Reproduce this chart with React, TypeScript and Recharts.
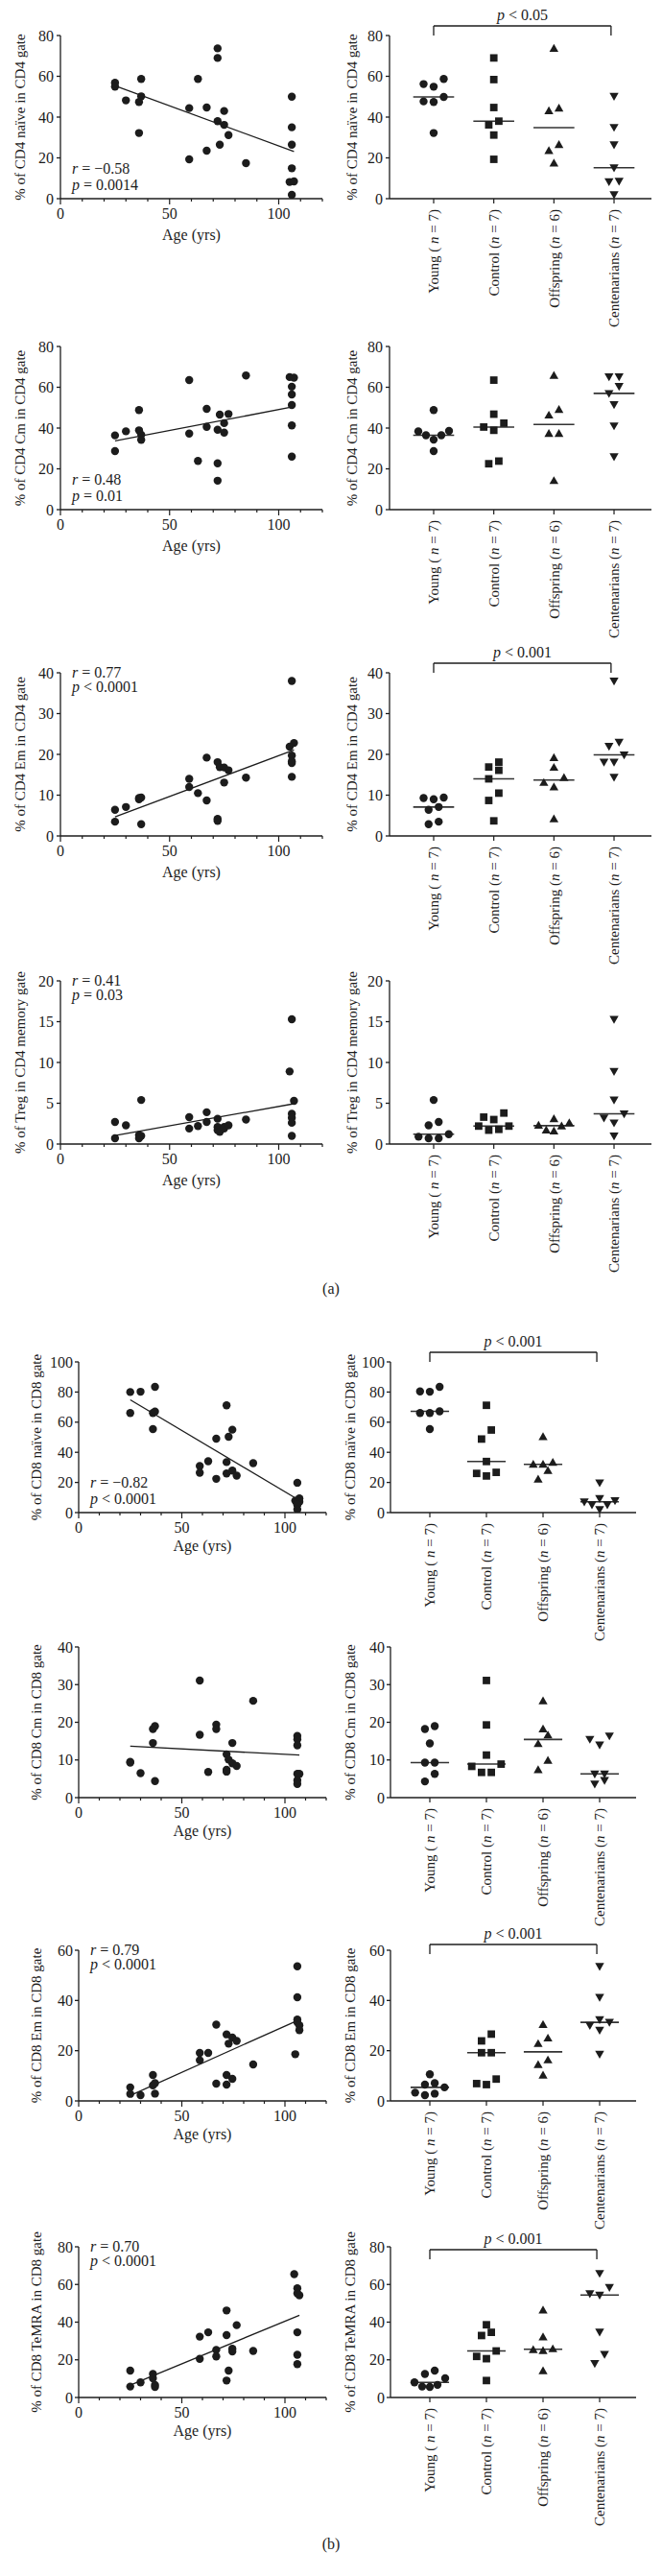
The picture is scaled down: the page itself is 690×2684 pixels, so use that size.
import React from 'react';
import { ScatterChart, Scatter, XAxis, YAxis, ReferenceLine } from 'recharts';

const SERIF = '"Liberation Serif", "DejaVu Serif", serif';
const INK = '#1c1c1c';

// categories / tick labels
const GROUPS = ['Young', 'Control', 'Offspring', 'Centenarians'];
const GROUP_OPEN = ['( ', '(', '(', '('];
const GROUP_N = [7, 7, 6, 7];
const GROUP_MARKS = ['circle', 'square', 'up', 'down'];
const AGE_TICKS = [0, 10, 20, 30, 40, 50, 60, 70, 80, 90, 100, 110, 120];
const AGE_LABELS = [0, 50, 100];

// ---- (a) CD4 naive ----
const CD4_NAIVE_TICKS = [0, 20, 40, 60, 80];
const CD4_NAIVE_AGE = [
  [25, 56.8], [25, 54.9], [30, 48.2], [36, 47.4], [36, 32.2], [37, 58.7], [37, 50.2],
  [59, 44.4], [59, 19.3], [63, 58.7], [67, 44.7], [67, 23.5], [72, 73.7], [72, 69], [72, 38],
  [73, 26.5], [75, 43], [75, 36.2], [77, 31.2], [85, 17.4],
  [106, 50], [106, 35], [106, 26.5], [106, 14.9], [105, 8.2], [107, 8.5], [106, 1.9],
];
const CD4_NAIVE_YOUNG = [58.7, 56.2, 54.9, 49.9, 47.7, 47.4, 32.2];
const CD4_NAIVE_CONTROL = [69, 58.4, 44.7, 38, 36.2, 31.2, 19.3];
const CD4_NAIVE_OFFSPRING = [73.7, 43.1, 44.4, 26.5, 23.5, 17.4];
const CD4_NAIVE_CENT = [50.2, 35, 26.5, 15.2, 8.6, 8.3, 2];

// ---- (a) CD4 Cm ----
const CD4_CM_TICKS = [0, 20, 40, 60, 80];
const CD4_CM_AGE = [
  [25, 36.4], [25, 28.7], [30, 38.4], [36, 48.8], [36, 38.9], [37, 36.7], [37, 34.2],
  [59, 63.5], [59, 37.3], [63, 23.9], [67, 49.4], [67, 40.6], [72, 39.2], [72, 22.7], [72, 14.2],
  [73, 46.6], [75, 42.4], [75, 37.8], [77, 46.9], [85, 65.8],
  [105, 65], [107, 64.7], [106, 60.3], [106, 56.5], [106, 51.3], [106, 41.3], [106, 26],
];
const CD4_CM_YOUNG = [48.8, 38.4, 38.6, 36.5, 36.5, 34.3, 28.7];
const CD4_CM_CONTROL = [63.5, 46.8, 40.5, 42.4, 38.9, 22.5, 23.8];
const CD4_CM_OFFSPRING = [65.8, 46.3, 49.1, 37.3, 37.3, 14.2];
const CD4_CM_CENT = [65.2, 65.2, 60.5, 57, 51.5, 41.1, 26];

// ---- (a) CD4 Em ----
const CD4_EM_TICKS = [0, 10, 20, 30, 40];
const CD4_EM_AGE = [
  [25, 6.4], [25, 3.5], [30, 7.1], [36, 9.0], [36, 9.3], [37, 9.4], [37, 2.9],
  [59, 14], [59, 12], [63, 10.5], [67, 19.2], [67, 8.7], [72, 18.1], [72, 4.2], [72, 3.7],
  [73, 16.9], [75, 16.8], [75, 13.1], [77, 16.1], [85, 14.3],
  [106, 38], [107, 22.8], [105, 21.9], [106, 19.7], [106, 17.9], [106, 18.3], [106, 14.5],
];
const CD4_EM_YOUNG = [9.4, 9.0, 9.3, 7.1, 6.4, 2.9, 3.5];
const CD4_EM_CONTROL = [18.1, 16.9, 16.1, 14, 10.5, 8.7, 3.7];
const CD4_EM_OFFSPRING = [19.2, 16.8, 14.3, 13.1, 12, 4.2];
const CD4_EM_CENT = [38, 23, 22, 19.9, 18.1, 18.1, 14.4];

// ---- (a) Treg ----
const TREG_TICKS = [0, 5, 10, 15, 20];
const TREG_AGE = [
  [25, 2.7], [25, 0.7], [30, 2.3], [37, 5.4], [36, 1.1], [37, 1.0], [36, 0.7],
  [59, 3.3], [59, 1.9], [63, 2.2], [67, 3.9], [67, 2.7], [72, 3.1], [72, 2.1], [72, 1.7],
  [73, 1.5], [75, 2.1], [75, 1.9], [77, 2.3], [85, 3],
  [106, 15.3], [105, 8.9], [107, 5.3], [106, 3.7], [106, 3.2], [106, 2.6], [106, 1],
];
const TREG_YOUNG = [5.4, 2.7, 2.3, 1.2, 0.9, 0.7, 0.7];
const TREG_CONTROL = [3.3, 3, 3.8, 2.2, 2.2, 1.7, 1.8];
const TREG_OFFSPRING = [2.6, 2.2, 3.1, 2.3, 1.7, 1.6];
const TREG_CENT = [15.3, 8.9, 5.4, 3.7, 3.2, 2.6, 1];

// ---- (b) CD8 naive ----
const CD8_NAIVE_TICKS = [0, 20, 40, 60, 80, 100];
const CD8_NAIVE_AGE = [
  [25, 80], [25, 66.1], [30, 80.2], [37, 83.4], [36, 66.1], [37, 67], [36, 55.4],
  [58.7, 30.9], [58.7, 26.4], [62.8, 34.1], [66.7, 49], [66.7, 22.4], [71.7, 71.2], [71.7, 33.5],
  [71.7, 26], [72.7, 50.3], [74.5, 55], [74.5, 27.9], [76.6, 24.5], [84.6, 32.8],
  [106, 19.8], [107, 9.4], [105, 7.9], [107, 7.2], [106, 5.3], [106, 5.3], [106, 2.1],
];
const CD8_NAIVE_YOUNG = [83.4, 80.2, 80.4, 66.1, 66.1, 67.2, 55.4];
const CD8_NAIVE_CONTROL = [71.2, 54.8, 48.8, 33.9, 26.7, 26, 24.3];
const CD8_NAIVE_OFFSPRING = [50.3, 32, 32, 33.3, 27.9, 22.2];
const CD8_NAIVE_CENT = [19.8, 7.9, 9.4, 7.2, 5.3, 5.3, 2.1];

// ---- (b) CD8 Cm ----
const CD8_CM_TICKS = [0, 10, 20, 30, 40];
const CD8_CM_AGE = [
  [25, 9.5], [25, 9.3], [30, 6.5], [36, 18.2], [36, 14.5], [37, 19], [37, 4.4],
  [58.7, 31.1], [58.7, 16.7], [62.8, 6.8], [66.7, 19.4], [66.7, 18.2], [71.7, 11.5], [71.7, 7.4],
  [71.7, 6.9], [72.7, 10.1], [74.5, 14.5], [74.5, 9.1], [76.6, 8.4], [84.6, 25.7],
  [106, 16.4], [106, 15.5], [106, 13.9], [106, 6.3], [107, 6.3], [106, 4.6], [106, 3.6],
];
const CD8_CM_YOUNG = [19, 18.2, 14.4, 9.3, 9.3, 6.3, 4.3];
const CD8_CM_CONTROL = [31.1, 19.3, 11.3, 8.3, 8.9, 6.7, 6.7];
const CD8_CM_OFFSPRING = [25.7, 18.2, 16.6, 14.3, 9.9, 7.4];
const CD8_CM_CENT = [16.4, 15.5, 14, 6.3, 6.3, 4.6, 3.6];

// ---- (b) CD8 Em ----
const CD8_EM_TICKS = [0, 20, 40, 60];
const CD8_EM_AGE = [
  [25, 5.4], [25, 2.8], [30, 2.3], [36, 10.3], [36, 6.2], [37, 7.1], [37, 2.9],
  [58.7, 19.1], [58.7, 16.2], [62.8, 19.1], [66.7, 30.4], [66.7, 6.9], [71.7, 26.5], [71.7, 6.5],
  [71.7, 10.3], [72.7, 22.8], [74.5, 25.2], [74.5, 8.8], [76.6, 23.9], [84.6, 14.5],
  [106, 53.6], [106, 41.3], [106, 32.4], [106, 31.3], [107, 30.1], [107, 28.2], [105, 18.6],
];
const CD8_EM_YOUNG = [10.6, 6.5, 7.1, 5.4, 3.3, 2.3, 2.9];
const CD8_EM_CONTROL = [26.6, 23.9, 19.2, 19.2, 8.7, 6.5, 6.9];
const CD8_EM_OFFSPRING = [30.4, 25, 22.8, 16.3, 14.4, 10.2];
const CD8_EM_CENT = [53.6, 41.3, 30.1, 32.4, 31.3, 28.2, 18.6];

// ---- (b) CD8 TeMRA ----
const CD8_TEMRA_TICKS = [0, 20, 40, 60, 80];
const CD8_TEMRA_AGE = [
  [25, 14.3], [25, 5.8], [30, 8], [36, 12.5], [36, 10.2], [37, 6.7], [37, 5.6],
  [58.7, 32.3], [58.7, 20.5], [62.8, 34.6], [66.7, 25.3], [66.7, 21.8], [71.7, 46.2], [71.7, 33.1],
  [71.7, 9], [72.7, 14.3], [74.5, 25.9], [74.5, 24.4], [76.6, 38.4], [84.6, 24.7],
  [104.5, 65.5], [106, 58], [106, 55.3], [107, 54.3], [106, 34.6], [106, 22.7], [106, 17.7],
];
const CD8_TEMRA_YOUNG = [14.3, 12.5, 10.2, 8.0, 6.7, 5.8, 5.6];
const CD8_TEMRA_CONTROL = [38.6, 32.9, 34.6, 21.8, 20.6, 24.7, 9];
const CD8_TEMRA_OFFSPRING = [46.4, 32.1, 25.4, 24.9, 25.8, 14.2];
const CD8_TEMRA_CENT = [65.9, 58.5, 54.4, 55.1, 34.8, 22.9, 18.1];

type Panel = {
  yLabel: string;
  ticks: number[];
  age: number[][];
  groups: number[][];
  stats?: string[];
  statPos?: 'top' | 'bottom';
  bracket?: { text: string; gap: number };
};

const PANELS_A: Panel[] = [
  {
    yLabel: '% of CD4 naïve in CD4 gate', ticks: CD4_NAIVE_TICKS, age: CD4_NAIVE_AGE,
    groups: [CD4_NAIVE_YOUNG, CD4_NAIVE_CONTROL, CD4_NAIVE_OFFSPRING, CD4_NAIVE_CENT],
    stats: ['= −0.58', '= 0.0014'], statPos: 'bottom', bracket: { text: '< 0.05', gap: 10 },
  },
  {
    yLabel: '% of CD4 Cm in CD4 gate', ticks: CD4_CM_TICKS, age: CD4_CM_AGE,
    groups: [CD4_CM_YOUNG, CD4_CM_CONTROL, CD4_CM_OFFSPRING, CD4_CM_CENT],
    stats: ['= 0.48', '= 0.01'], statPos: 'bottom',
  },
  {
    yLabel: '% of CD4 Em in CD4 gate', ticks: CD4_EM_TICKS, age: CD4_EM_AGE,
    groups: [CD4_EM_YOUNG, CD4_EM_CONTROL, CD4_EM_OFFSPRING, CD4_EM_CENT],
    stats: ['= 0.77', '< 0.0001'], statPos: 'top', bracket: { text: '< 0.001', gap: 10 },
  },
  {
    yLabel: '% of Treg in CD4 memory gate', ticks: TREG_TICKS, age: TREG_AGE,
    groups: [TREG_YOUNG, TREG_CONTROL, TREG_OFFSPRING, TREG_CENT],
    stats: ['= 0.41', '= 0.03'], statPos: 'top',
  },
];

const PANELS_B: Panel[] = [
  {
    yLabel: '% of CD8 naïve in CD8 gate', ticks: CD8_NAIVE_TICKS, age: CD8_NAIVE_AGE,
    groups: [CD8_NAIVE_YOUNG, CD8_NAIVE_CONTROL, CD8_NAIVE_OFFSPRING, CD8_NAIVE_CENT],
    stats: ['= −0.82', '< 0.0001'], statPos: 'bottom', bracket: { text: '< 0.001', gap: 10 },
  },
  {
    yLabel: '% of CD8 Cm in CD8 gate', ticks: CD8_CM_TICKS, age: CD8_CM_AGE,
    groups: [CD8_CM_YOUNG, CD8_CM_CONTROL, CD8_CM_OFFSPRING, CD8_CM_CENT],
  },
  {
    yLabel: '% of CD8 Em in CD8 gate', ticks: CD8_EM_TICKS, age: CD8_EM_AGE,
    groups: [CD8_EM_YOUNG, CD8_EM_CONTROL, CD8_EM_OFFSPRING, CD8_EM_CENT],
    stats: ['= 0.79', '< 0.0001'], statPos: 'top', bracket: { text: '< 0.001', gap: 6 },
  },
  {
    yLabel: '% of CD8 TeMRA in CD8 gate', ticks: CD8_TEMRA_TICKS, age: CD8_TEMRA_AGE,
    groups: [CD8_TEMRA_YOUNG, CD8_TEMRA_CONTROL, CD8_TEMRA_OFFSPRING, CD8_TEMRA_CENT],
    stats: ['= 0.70', '< 0.0001'], statPos: 'top', bracket: { text: '< 0.001', gap: -3 },
  },
];

// layout of the two halves of the figure
type Part = {
  H: number; tops: number[];
  leftAxisW: number; leftRight: number; rightAxisW: number; rightRight: number;
  xDomain: [number, number]; step: number; yLabelL: number; yLabelR: number; ageOffset: number; tickGap: number;
};
const PART_A: Part = {
  H: 170, tops: [37, 361, 701, 1022],
  leftAxisW: 63, leftRight: 9, rightAxisW: 61, rightRight: 11,
  xDomain: [0.266, 4.622], step: 10.5, yLabelL: 21, yLabelR: 22, ageOffset: 43, tickGap: 3,
};
const PART_B: Part = {
  H: 157, tops: [1419, 1716, 2032, 2341],
  leftAxisW: 82, leftRight: 5, rightAxisW: 62, rightRight: 27,
  xDomain: [0.305, 4.644], step: 10.2, yLabelL: 38, yLabelR: 20, ageOffset: 40, tickGap: 2,
};
const TOP_PAD = 30;

const median = (v: number[]) => {
  const s = [...v].sort((a, b) => a - b);
  const m = Math.floor(s.length / 2);
  return s.length % 2 ? s[m] : (s[m - 1] + s[m]) / 2;
};

function fitLine(pts: number[][]) {
  const n = pts.length;
  const mx = pts.reduce((a, p) => a + p[0], 0) / n;
  const my = pts.reduce((a, p) => a + p[1], 0) / n;
  let sxy = 0, sxx = 0;
  pts.forEach(([x, y]) => { sxy += (x - mx) * (y - my); sxx += (x - mx) * (x - mx); });
  const b = sxy / sxx, a = my - b * mx;
  const x0 = Math.min(...pts.map((p) => p[0]));
  const x1 = Math.max(...pts.map((p) => p[0]));
  return [{ x: x0, y: a + b * x0 }, { x: x1, y: a + b * x1 }];
}

// GraphPad-like column scatter: points close in value share a row, spread sideways
function swarm(values: number[], pxPerUnit: number, step: number) {
  const order = values.map((_, i) => i).sort((a, b) => values[a] - values[b]);
  const out = values.map(() => 0);
  let bin: number[] = [];
  const flush = () => {
    const n = bin.length;
    const s = n > 1 ? Math.min(step, 32 / (n - 1)) : 0;
    const slots: number[] = [];
    if (n % 2) { slots.push(0); for (let k = 1; slots.length < n; k++) slots.push(-k, k); }
    else { for (let k = 0.5; slots.length < n; k++) slots.push(-k, k); }
    bin.forEach((idx, j) => (out[idx] = slots[j] * s));
    bin = [];
  };
  order.forEach((i) => {
    if (bin.length && (values[i] - values[bin[0]]) * pxPerUnit > 10) flush();
    bin.push(i);
  });
  flush();
  return out;
}

function Mark({ kind, cx, cy }: { kind: string; cx: number; cy: number }) {
  if (kind === 'square') return <rect x={cx - 3.9} y={cy - 3.9} width={7.8} height={7.8} fill={INK} />;
  if (kind === 'up')
    return <polygon points={`${cx},${cy - 4.7} ${cx + 4.7},${cy + 3.5} ${cx - 4.7},${cy + 3.5}`} fill={INK} />;
  if (kind === 'down')
    return <polygon points={`${cx},${cy + 4.7} ${cx + 4.7},${cy - 3.5} ${cx - 4.7},${cy - 3.5}`} fill={INK} />;
  return <circle cx={cx} cy={cy} r={4.2} fill={INK} />;
}

function AgeTick(props: any) {
  const { x, y, payload } = props;
  const major = AGE_LABELS.includes(payload.value);
  return (
    <g>
      <line x1={x} y1={y} x2={x} y2={y + (major ? 6 : 3)} stroke={INK} strokeWidth={1.2} />
      {major && (
        <text x={x} y={y + 21} textAnchor="middle" fontSize={16} fontFamily={SERIF} fill={INK}>
          {payload.value}
        </text>
      )}
    </g>
  );
}

function GroupTick(props: any) {
  const { x, y, payload } = props;
  const i = Math.round(payload.value) - 1;
  const ty = y + 11;
  return (
    <g>
      <line x1={x} y1={y} x2={x} y2={y + 5} stroke={INK} strokeWidth={1.2} />
      <text
        x={x} y={ty} dy="0.36em" transform={`rotate(-90 ${x} ${ty})`} textAnchor="end"
        fontSize={15} fontFamily={SERIF} fill={INK} style={{ whiteSpace: 'pre' }}
      >
        {GROUPS[i]} {GROUP_OPEN[i]}<tspan fontStyle="italic">n</tspan> = {GROUP_N[i]})
      </text>
    </g>
  );
}

function yTitle(text: string, cx: number) {
  return (p: any) => {
    const vb = p.viewBox;
    if (!vb) return null;
    const cy = vb.y + vb.height / 2;
    return (
      <text
        x={cx} y={cy} dy="0.36em" transform={`rotate(-90 ${cx} ${cy})`} textAnchor="middle"
        fontSize={15} fontFamily={SERIF} fill={INK}
      >
        {text}
      </text>
    );
  };
}

const axisLine = { stroke: INK, strokeWidth: 1.3 };

function LeftPanel({ panel, part, top }: { panel: Panel; part: Part; top: number }) {
  const yMax = panel.ticks[panel.ticks.length - 1];
  const pts = panel.age.map(([x, y]) => ({ x, y }));
  const reg = fitLine(panel.age);
  return (
    <div style={{ position: 'absolute', left: 0, top: top - TOP_PAD }}>
      <ScatterChart
        width={345} height={TOP_PAD + part.H + 55}
        margin={{ top: TOP_PAD, right: part.leftRight, bottom: 0, left: 0 }}
      >
        <XAxis
          type="number" dataKey="x" domain={[0, 120]} ticks={AGE_TICKS} interval={0} allowDataOverflow
          height={55} tickLine={false} tickSize={0} tickMargin={0} axisLine={axisLine} tick={AgeTick}
          label={{
            content: (p: any) =>
              p.viewBox ? (
                <text
                  x={p.viewBox.x + p.viewBox.width / 2} y={p.viewBox.y + part.ageOffset}
                  textAnchor="middle" fontSize={16} fontFamily={SERIF} fill={INK}
                >
                  Age (yrs)
                </text>
              ) : null,
          }}
        />
        <YAxis
          type="number" dataKey="y" domain={[0, yMax]} ticks={panel.ticks} interval={0} allowDataOverflow
          width={part.leftAxisW} axisLine={axisLine} tickLine={axisLine} tickSize={4} tickMargin={part.tickGap}
          tick={{ fontSize: 16, fontFamily: SERIF, fill: INK }}
          label={{ content: yTitle(panel.yLabel, part.yLabelL) }}
        />
        <ReferenceLine segment={reg} stroke={INK} strokeWidth={1.3} ifOverflow="visible" />
        <Scatter
          data={pts} isAnimationActive={false}
          shape={(p: any) => <Mark kind="circle" cx={p.cx} cy={p.cy} />}
        />
      </ScatterChart>
    </div>
  );
}

function RightPanel({ panel, part, top }: { panel: Panel; part: Part; top: number }) {
  const yMax = panel.ticks[panel.ticks.length - 1];
  const u = yMax / part.H; // data units per pixel
  const series = panel.groups.map((vals, gi) => {
    const dx = swarm(vals, 1 / u, part.step);
    return vals.map((y, k) => ({ x: gi + 1, y, dx: dx[k] }));
  });
  const br = panel.bracket;
  const lvl = br ? yMax + br.gap * u : 0;
  const drop = lvl - 10 * u;
  const bl = 1, brx = 3.95;
  return (
    <div style={{ position: 'absolute', left: 345, top: top - TOP_PAD }}>
      <ScatterChart
        width={345} height={TOP_PAD + part.H + 140}
        margin={{ top: TOP_PAD, right: part.rightRight, bottom: 0, left: 0 }}
      >
        <XAxis
          type="number" dataKey="x" domain={part.xDomain} ticks={[1, 2, 3, 4]} interval={0} allowDataOverflow
          height={140} tickLine={false} tickSize={0} tickMargin={0} axisLine={axisLine} tick={GroupTick}
        />
        <YAxis
          type="number" dataKey="y" domain={[0, yMax]} ticks={panel.ticks} interval={0} allowDataOverflow
          width={part.rightAxisW} axisLine={axisLine} tickLine={axisLine} tickSize={4} tickMargin={part.tickGap}
          tick={{ fontSize: 16, fontFamily: SERIF, fill: INK }}
          label={{ content: yTitle(panel.yLabel, part.yLabelR) }}
        />
        {panel.groups.map((vals, gi) => {
          const m = median(vals);
          return (
            <ReferenceLine
              key={`m${gi}`} segment={[{ x: gi + 1 - 0.34, y: m }, { x: gi + 1 + 0.34, y: m }]}
              stroke="#333" strokeWidth={1.6} ifOverflow="visible"
            />
          );
        })}
        {br && (
          <ReferenceLine
            segment={[{ x: bl, y: lvl }, { x: brx, y: lvl }]} stroke={INK} strokeWidth={1.3} ifOverflow="visible"
            label={(p: any) =>
              p.viewBox ? (
                <text
                  x={p.viewBox.x + p.viewBox.width / 2} y={p.viewBox.y - 6} textAnchor="middle"
                  fontSize={16} fontFamily={SERIF} fill={INK} style={{ whiteSpace: 'pre' }}
                >
                  <tspan fontStyle="italic">p</tspan> {br.text}
                </text>
              ) : null
            }
          />
        )}
        {br && (
          <ReferenceLine segment={[{ x: bl, y: lvl }, { x: bl, y: drop }]} stroke={INK} strokeWidth={1.3} ifOverflow="visible" />
        )}
        {br && (
          <ReferenceLine segment={[{ x: brx, y: lvl }, { x: brx, y: drop }]} stroke={INK} strokeWidth={1.3} ifOverflow="visible" />
        )}
        {series.map((data, gi) => (
          <Scatter
            key={GROUPS[gi]} name={GROUPS[gi]} data={data} isAnimationActive={false}
            shape={(p: any) => <Mark kind={GROUP_MARKS[gi]} cx={p.cx + (p.payload?.dx ?? 0)} cy={p.cy} />}
          />
        ))}
      </ScatterChart>
    </div>
  );
}

function Stats({ panel, part, top }: { panel: Panel; part: Part; top: number }) {
  if (!panel.stats) return null;
  const x = part.leftAxisW + 12;
  const bottom = top + part.H;
  const y1 = panel.statPos === 'top' ? top + 5 : bottom - 26;
  const y2 = panel.statPos === 'top' ? top + 20 : bottom - 9;
  const t = { fontSize: 16, fontFamily: SERIF, fill: INK, style: { whiteSpace: 'pre' as const } };
  return (
    <g>
      <text x={x} y={y1} {...t}>
        <tspan fontStyle="italic">r</tspan> {panel.stats[0]}
      </text>
      <text x={x} y={y2} {...t}>
        <tspan fontStyle="italic">p</tspan> {panel.stats[1]}
      </text>
    </g>
  );
}

export default function App() {
  const parts: [Panel[], Part][] = [[PANELS_A, PART_A], [PANELS_B, PART_B]];
  return (
    <div style={{ position: 'absolute', left: 0, top: 0, width: 690, height: 2684, background: '#fff' }}>
      {parts.map(([panels, part]) =>
        panels.map((panel, i) => (
          <React.Fragment key={panel.yLabel}>
            <LeftPanel panel={panel} part={part} top={part.tops[i]} />
            <RightPanel panel={panel} part={part} top={part.tops[i]} />
          </React.Fragment>
        ))
      )}
      <svg width={690} height={2684} style={{ position: 'absolute', left: 0, top: 0, pointerEvents: 'none' }}>
        {parts.map(([panels, part]) =>
          panels.map((panel, i) => <Stats key={panel.yLabel} panel={panel} part={part} top={part.tops[i]} />)
        )}
        <text x={345} y={1348} textAnchor="middle" fontSize={16} fontFamily={SERIF} fill={INK}>(a)</text>
        <text x={345} y={2656} textAnchor="middle" fontSize={16} fontFamily={SERIF} fill={INK}>(b)</text>
      </svg>
    </div>
  );
}
